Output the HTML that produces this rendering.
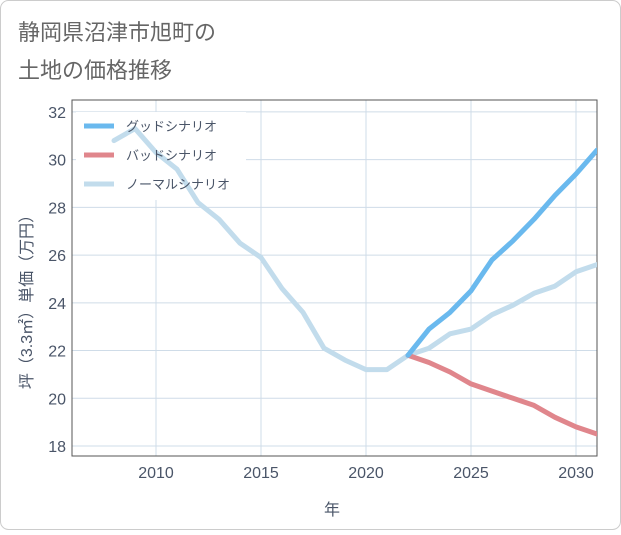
<!DOCTYPE html>
<html><head><meta charset="utf-8"><style>
body{margin:0;background:#fff;}
svg text{font-family:"Liberation Sans","Noto Sans CJK JP",sans-serif;}
</style></head><body>
<svg id="chart" width="621" height="530" xmlns="http://www.w3.org/2000/svg">
<rect x="0.5" y="0.5" width="620" height="529" rx="8" fill="#fff" stroke="#ccc"/>
<text x="18" y="40" font-size="22" fill="#666">静岡県沼津市旭町の</text>
<text x="18" y="78" font-size="22" fill="#666">土地の価格推移</text>
<g id="grid"></g>
<rect x="72" y="100" width="525" height="356" fill="none" stroke="#555" stroke-width="1"/>
<g id="legendbg"></g>
<g id="series"></g>
<g id="legend"></g>
<text x="332" y="515" font-size="16" fill="#4a5568" text-anchor="middle">年</text>
<text transform="translate(32,298) rotate(-90)" font-size="16" fill="#4a5568" text-anchor="middle">坪（3.3㎡）単価（万円）</text>
</svg>
<script>
const xTicks=[2010,2015,2020,2025,2030];
const yTicks=[18,20,22,24,26,28,30,32];
const normalYears=[2008,2009,2010,2011,2012,2013,2014,2015,2016,2017,2018,2019,2020,2021,2022,2023,2024,2025,2026,2027,2028,2029,2030,2031];
const normalValues=[30.8,31.3,30.3,29.6,28.2,27.5,26.5,25.9,24.6,23.6,22.1,21.6,21.2,21.2,21.8,22.1,22.7,22.9,23.5,23.9,24.4,24.7,25.3,25.6];
const futureYears=[2022,2023,2024,2025,2026,2027,2028,2029,2030,2031];
const goodValues=[21.8,22.9,23.6,24.5,25.8,26.6,27.5,28.5,29.4,30.4];
const badValues=[21.8,21.5,21.1,20.6,20.3,20.0,19.7,19.2,18.8,18.5];
const seriesNames=["グッドシナリオ","バッドシナリオ","ノーマルシナリオ"];
const L=72,R=597,T=100,B=456,X0=2006,X1=2031,Y0=17.58,Y1=32.5;
const sx=v=>L+(v-X0)/(X1-X0)*(R-L);
const sy=v=>B-(v-Y0)/(Y1-Y0)*(B-T);
const NS="http://www.w3.org/2000/svg";
function mk(tag,attrs,parent){const e=document.createElementNS(NS,tag);for(const k in attrs)e.setAttribute(k,attrs[k]);parent.appendChild(e);return e;}
const grid=document.getElementById('grid');
xTicks.forEach(t=>{
 const l=mk('line',{x1:sx(t),x2:sx(t),y1:T,y2:B,stroke:'#cfdce8'},grid);
 
 
 const tx=mk('text',{x:sx(t),y:B+22,'font-size':16,fill:'#4a5568','text-anchor':'middle'},grid);
 tx.textContent=t;
 
 
});
yTicks.forEach(t=>{
 const l=mk('line',{x1:L,x2:R,y1:sy(t),y2:sy(t),stroke:'#cfdce8'},grid);
 
 
 const tx=mk('text',{x:L-6,y:sy(t)+6,'font-size':16,fill:'#4a5568','text-anchor':'end'},grid);
 tx.textContent=t;
 
 
});
const lb=mk('rect',{x:76,y:112,width:170,height:88,fill:'#fff'},document.getElementById('legendbg'));


const sg=document.getElementById('series');
function line(xs,ys,color,name){
 const d=xs.map((x,i)=>(i?'L':'M')+sx(x).toFixed(1)+','+sy(ys[i]).toFixed(1)).join(' ');
 const p=mk('path',{d:d,fill:'none',stroke:color,'stroke-width':5,'stroke-linejoin':'round','stroke-linecap':'round'},sg);
 
 
}
const svg=document.getElementById('chart');
const cp=mk('clipPath',{id:'clip'},svg);
mk('rect',{x:L,y:T,width:R-L,height:B-T},cp);
sg.setAttribute('clip-path','url(#clip)');
line(normalYears,normalValues,'#c2dcec','normal-scenario-line');
line(futureYears,badValues,'#e0868c','bad-scenario-line');
line(futureYears,goodValues,'#6ab9ee','good-scenario-line');
const lg=document.getElementById('legend');
const lcol=['#6ab9ee','#e0868c','#c2dcec'];
seriesNames.forEach((n,i)=>{
 const y=126+i*29;
 const l=mk('line',{x1:84,x2:114,y1:y,y2:y,stroke:lcol[i],'stroke-width':5},lg);
 
 
 const t=mk('text',{x:126,y:y+5,'font-size':13,fill:'#4a5568'},lg);
 t.textContent=n;
 
 
});
</script>
</body></html>
